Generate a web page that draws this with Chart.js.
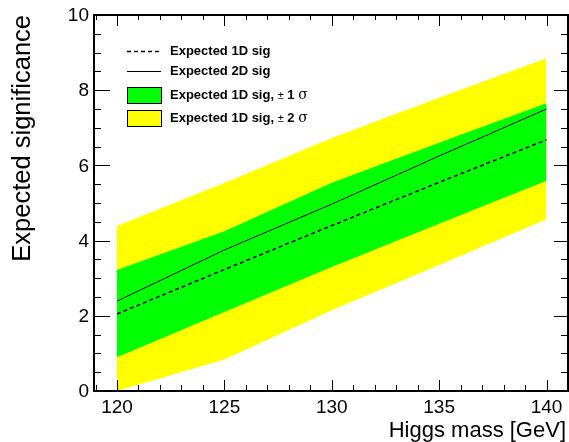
<!DOCTYPE html>
<html>
<head>
<meta charset="utf-8">
<script src="https://cdn.jsdelivr.net/npm/chart.js@4"></script>
<style>
  html, body { margin: 0; padding: 0; background: #fff; }
  #wrap { width: 569px; height: 442px; }
</style>
</head>
<body>
<div id="wrap"><canvas id="c" width="569" height="442"></canvas></div>
<script>
// values
const masses = [120, 125, 130, 135, 140];
const exp1D = [2.05, 3.23, 4.40, 5.55, 6.68];
const exp2D = [2.39, 3.75, 4.97, 6.25, 7.50];
const sig1Up = [3.22, 4.25, 5.54, 6.60, 7.65];
const sig1Dn = [0.90, 2.10, 3.30, 4.45, 5.59];
const sig2Up = [4.39, 5.53, 6.73, 7.80, 8.85];
const sig2Dn = [0.00, 0.84, 2.15, 3.35, 4.57];

const xMajor = [120, 125, 130, 135, 140];
const yMajor = [0, 2, 4, 6, 8, 10];

const FONT = '"Liberation Sans", Arial, Helvetica, sans-serif';

const pts = vals => masses.map((m, i) => ({ x: m, y: vals[i] }));

const band = (vals, color, fill, order) => ({
  data: pts(vals),
  borderWidth: 0,
  borderColor: 'rgba(0,0,0,0)',
  backgroundColor: color,
  pointRadius: 0,
  tension: 0,
  fill: fill,
  order: order
});

// ROOT style frame, inward ticks, labels and legend
const rootFrame = {
  id: 'rootFrame',
  afterDraw(chart) {
    const ctx = chart.ctx;
    const a = chart.chartArea;
    const xs = chart.scales.x, ys = chart.scales.y;
    ctx.save();
    ctx.strokeStyle = '#000';
    ctx.lineWidth = 1;
    ctx.beginPath();
    // x ticks (bottom and top)
    for (let v = 119; v <= 141; v += 1) {
      const px = Math.round(xs.getPixelForValue(v)) + 0.5;
      if (px < a.left || px > a.right) continue;
      const major = v % 5 === 0;
      ctx.moveTo(px, a.bottom); ctx.lineTo(px, a.bottom - (major ? 11 : 6));
      ctx.moveTo(px, a.top); ctx.lineTo(px, a.top + (major ? 11 : 5));
    }
    // y ticks (left and right)
    for (let v = 0; v <= 10; v += 0.5) {
      const py = Math.round(ys.getPixelForValue(v)) + 0.5;
      const major = v % 2 === 0;
      ctx.moveTo(a.left, py); ctx.lineTo(a.left + (major ? 16 : 7), py);
      ctx.moveTo(a.right, py); ctx.lineTo(a.right - (major ? 14 : 7), py);
    }
    ctx.stroke();

    ctx.lineWidth = 2;
    ctx.strokeRect(a.left, a.top, a.right - a.left, a.bottom - a.top);

    // tick labels
    ctx.fillStyle = '#000';
    ctx.font = '19px ' + FONT;
    ctx.textAlign = 'center';
    ctx.textBaseline = 'alphabetic';
    xMajor.forEach(v => ctx.fillText(String(v), xs.getPixelForValue(v), 413));
    ctx.textAlign = 'right';
    ctx.textBaseline = 'middle';
    yMajor.forEach(v => ctx.fillText(String(v), 89, ys.getPixelForValue(v) + 1));

    // axis titles
    ctx.font = '22px ' + FONT;
    ctx.textAlign = 'right';
    ctx.textBaseline = 'alphabetic';
    ctx.fillText('Higgs mass [GeV]', 566, 437);
    ctx.save();
    ctx.font = '25.5px ' + FONT;
    ctx.translate(30, 15);
    ctx.rotate(-Math.PI / 2);
    ctx.fillText('Expected significance', 0, 0);
    ctx.restore();

    // legend
    const lx0 = 127, lx1 = 161, tx = 170;
    ctx.lineWidth = 1.5;
    ctx.setLineDash([4, 3]);
    ctx.beginPath(); ctx.moveTo(lx0, 51.5); ctx.lineTo(lx1, 51.5); ctx.stroke();
    ctx.setLineDash([]);
    ctx.lineWidth = 1;
    ctx.beginPath(); ctx.moveTo(lx0, 71.5); ctx.lineTo(lx1, 71.5); ctx.stroke();
    ctx.fillStyle = '#00ff00';
    ctx.fillRect(lx0, 87, lx1 - lx0, 16);
    ctx.strokeRect(lx0 + 0.5, 87.5, lx1 - lx0, 16);
    ctx.fillStyle = '#ffff00';
    ctx.fillRect(lx0, 110, lx1 - lx0, 16);
    ctx.strokeRect(lx0 + 0.5, 110.5, lx1 - lx0, 16);

    ctx.fillStyle = '#000';
    ctx.textAlign = 'left';
    ctx.textBaseline = 'alphabetic';
    const bold = 'bold 13px ' + FONT;
    const runs = (y, parts) => {
      let x = tx;
      parts.forEach(([t, f]) => {
        ctx.font = f;
        ctx.fillText(t, x, y);
        x += ctx.measureText(t).width;
      });
    };
    runs(55, [['Expected 1D sig', bold]]);
    runs(75, [['Expected 2D sig', bold]]);
    runs(99, [['Expected 1D sig, ', bold], ['\u00b1', '11px ' + FONT], [' 1 ', bold], ['\u03c3', '14px "DejaVu Serif", serif']]);
    runs(122, [['Expected 1D sig, ', bold], ['\u00b1', '11px ' + FONT], [' 2 ', bold], ['\u03c3', '14px "DejaVu Serif", serif']]);
    ctx.restore();
  }
};

new Chart(document.getElementById('c'), {
  type: 'line',
  data: {
    datasets: [
      { data: pts(exp1D), borderColor: '#000', borderWidth: 1.6, borderDash: [4, 3], pointRadius: 0, fill: false, order: 0 },
      { data: pts(exp2D), borderColor: '#000', borderWidth: 1, pointRadius: 0, fill: false, order: 0 },
      band(sig1Up, '#00ff00', '+1', 1),
      band(sig1Dn, 'rgba(0,0,0,0)', false, 1),
      band(sig2Up, '#ffff00', '+1', 2),
      band(sig2Dn, 'rgba(0,0,0,0)', false, 2)
    ]
  },
  options: {
    responsive: false,
    animation: false,
    devicePixelRatio: 1,
    layout: { padding: { left: 94, right: 1, top: 15, bottom: 51 } },
    plugins: { legend: { display: false }, tooltip: { enabled: false } },
    scales: {
      x: { type: 'linear', min: 118.93, max: 141, display: false },
      y: { type: 'linear', min: 0, max: 10, display: false }
    }
  },
  plugins: [rootFrame]
});
</script>
</body>
</html>
